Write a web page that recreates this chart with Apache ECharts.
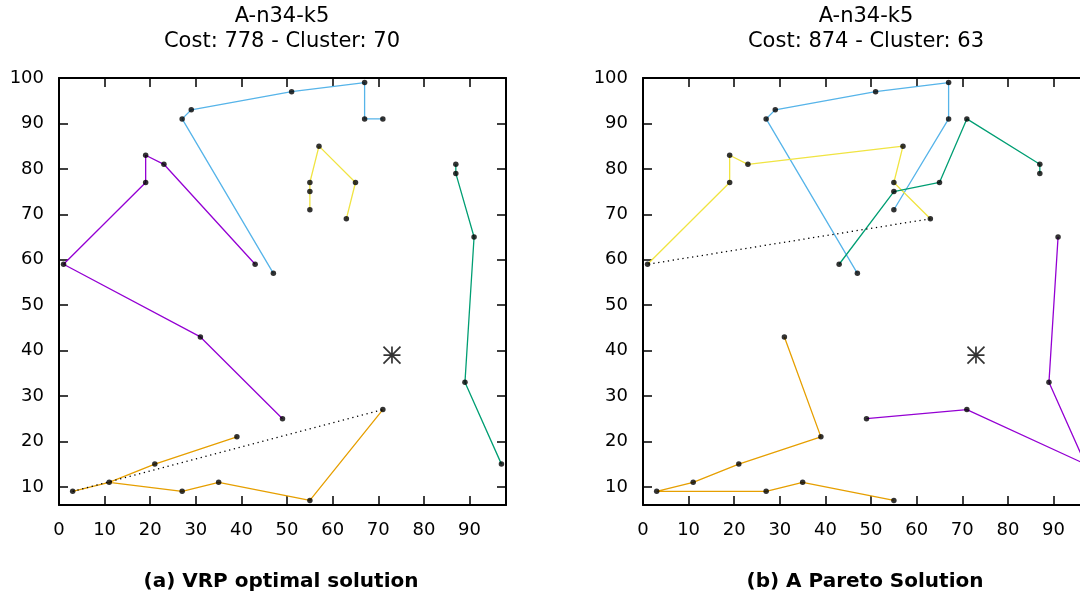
<!DOCTYPE html>
<html><head><meta charset="utf-8">
<script src="https://cdn.jsdelivr.net/npm/echarts@6/dist/echarts.min.js"></script>
<style>html,body{margin:0;padding:0;background:#fff}#c{width:1080px;height:599px}</style>
</head><body><div id="c"></div>
<script>
// ---- text ----
const titleLine1A = 'A-n34-k5';
const titleLine2A = 'Cost: 778 - Cluster: 70';
const titleLine1B = 'A-n34-k5';
const titleLine2B = 'Cost: 874 - Cluster: 63';
const captionA = '(a) VRP optimal solution';
const captionB = '(b) A Pareto Solution';

// ---- tick labels ----
const xTickLabels = [0, 10, 20, 30, 40, 50, 60, 70, 80, 90];
const yTickLabels = [10, 20, 30, 40, 50, 60, 70, 80, 90, 100];

// ---- depot ----
const depot = [[73, 39]];

// ---- panel (a) routes ----
const aBlue   = [[47,57],[27,91],[29,93],[51,97],[67,99],[67,91],[71,91]];
const aPurple = [[43,59],[23,81],[19,83],[19,77],[1,59],[31,43],[49,25]];
const aYellow = [[55,71],[55,75],[55,77],[57,85],[65,77],[63,69]];
const aGreen  = [[87,81],[87,79],[91,65],[89,33],[97,15]];
const aOrange = [[39,21],[21,15],[11,11],[3,9],[11,11],[27,9],[35,11],[55,7],[71,27]];
const aDotted = [[3,9],[71,27]];

// ---- panel (b) routes ----
const bBlue   = [[47,57],[27,91],[29,93],[51,97],[67,99],[67,91],[55,71]];
const bPurple = [[91,65],[89,33],[97,15],[71,27],[49,25]];
const bYellow = [[1,59],[19,77],[19,83],[23,81],[57,85],[55,77],[63,69]];
const bGreen  = [[43,59],[55,75],[65,77],[71,91],[87,81],[87,79]];
const bOrange = [[31,43],[39,21],[21,15],[11,11],[3,9],[27,9],[35,11],[55,7]];
const bDotted = [[63,69],[1,59]];

const C_BLUE = '#56B4E9', C_PURPLE = '#9400D3', C_YELLOW = '#F0E442', C_GREEN = '#009E73', C_ORANGE = '#E69F00';
const FONT = '"DejaVu Sans", "Liberation Sans", sans-serif';

const chart = echarts.init(document.getElementById('c'), null, {renderer: 'canvas'});

function xAx(gi, pos, labels) {
  return {
    type: 'value', gridIndex: gi, position: pos, min: 0, max: 98,
    axisLine: {show: true, onZero: false, lineStyle: {color: '#000', width: 2}},
    axisTick: {show: true, inside: true, length: 9, customValues: xTickLabels, lineStyle: {color: '#000', width: 1.5}},
    axisLabel: {show: labels, customValues: xTickLabels, margin: 16, fontSize: 18, fontFamily: FONT, color: '#000'},
    splitLine: {show: false}
  };
}
function yAx(gi, pos, labels) {
  return {
    type: 'value', gridIndex: gi, position: pos, min: 6, max: 100,
    axisLine: {show: true, onZero: false, lineStyle: {color: '#000', width: 2}},
    axisTick: {show: true, inside: true, length: 9, customValues: yTickLabels, lineStyle: {color: '#000', width: 1.5}},
    axisLabel: {show: labels, customValues: yTickLabels, margin: 15, fontSize: 18, fontFamily: FONT, color: '#000'},
    splitLine: {show: false}
  };
}
function route(data, color, ai) {
  return {type: 'line', xAxisIndex: ai, yAxisIndex: ai, data: data, symbol: 'none', showSymbol: false,
    lineStyle: {color: color, width: 1.3}, z: 2, silent: true, animation: false};
}
function dotted(data, ai) {
  return {type: 'line', xAxisIndex: ai, yAxisIndex: ai, data: data, symbol: 'none', showSymbol: false,
    lineStyle: {color: '#000', width: 1.3, type: [1.3, 3.6]}, z: 2, silent: true, animation: false};
}
function pts(routes, ai) {
  const seen = {}; const out = [];
  routes.forEach(r => r.forEach(p => { const k = p[0] + ',' + p[1]; if (!seen[k]) { seen[k] = 1; out.push(p); } }));
  return {type: 'scatter', xAxisIndex: ai, yAxisIndex: ai, data: out, symbol: 'circle', symbolSize: 5.5,
    itemStyle: {color: '#000'}, z: 5, silent: true, animation: false};
}
function depotSeries(ai) {
  return {type: 'scatter', xAxisIndex: ai, yAxisIndex: ai, data: depot,
    symbol: 'path://M0,-1L0,1M-1,0L1,0M-1,-1L1,1M-1,1L1,-1', symbolSize: 17,
    itemStyle: {color: 'rgba(0,0,0,0)', borderColor: '#000', borderWidth: 1.7}, z: 6, silent: true, animation: false};
}
function txt(s, x, y, size, bold) {
  return {type: 'text', x: x, y: y, silent: true,
    style: {text: s, fill: '#000', font: (bold ? 'bold ' : '') + size + 'px ' + FONT, textAlign: 'center', textVerticalAlign: 'middle'}};
}

const aRoutes = [aBlue, aPurple, aYellow, aGreen, aOrange];
const bRoutes = [bBlue, bPurple, bYellow, bGreen, bOrange];

chart.setOption({
  animation: false,
  backgroundColor: '#fff',
  grid: [
    {left: 59, top: 78, width: 447, height: 427, containLabel: false, outerBoundsMode: 'none'},
    {left: 643, top: 78, width: 447, height: 427, containLabel: false, outerBoundsMode: 'none'}
  ],
  xAxis: [xAx(0, 'bottom', true), xAx(0, 'top', false), xAx(1, 'bottom', true), xAx(1, 'top', false)],
  yAxis: [yAx(0, 'left', true), yAx(0, 'right', false), yAx(1, 'left', true), yAx(1, 'right', false)],
  series: [
    route(aBlue, C_BLUE, 0), route(aPurple, C_PURPLE, 0), route(aYellow, C_YELLOW, 0),
    route(aGreen, C_GREEN, 0), route(aOrange, C_ORANGE, 0), dotted(aDotted, 0),
    pts(aRoutes, 0), depotSeries(0),
    route(bBlue, C_BLUE, 2), route(bPurple, C_PURPLE, 2), route(bYellow, C_YELLOW, 2),
    route(bGreen, C_GREEN, 2), route(bOrange, C_ORANGE, 2), dotted(bDotted, 2),
    pts(bRoutes, 2), depotSeries(2)
  ],
  graphic: [
    txt(titleLine1A, 282, 17, 21, false), txt(titleLine2A, 282, 42, 21, false),
    txt(titleLine1B, 866, 17, 21, false), txt(titleLine2B, 866, 42, 21, false),
    txt(captionA, 281, 582, 20, true), txt(captionB, 865, 582, 20, true)
  ]
});
</script></body></html>
